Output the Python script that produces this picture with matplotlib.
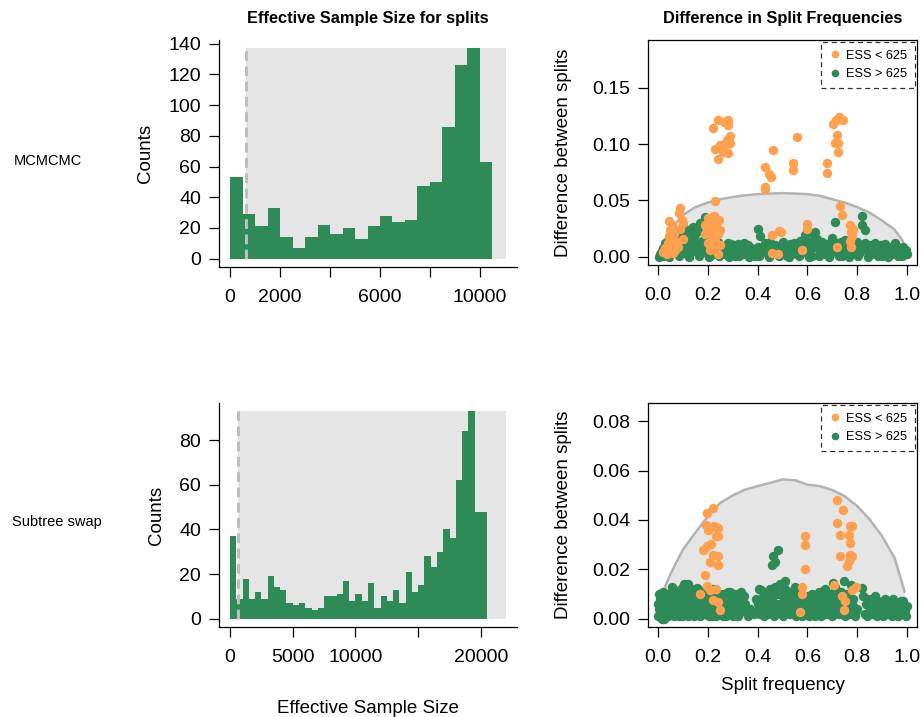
import numpy as np
import matplotlib
matplotlib.use('Agg')
import matplotlib.pyplot as plt
from matplotlib.lines import Line2D

plt.rcParams['font.family'] = ['Liberation Sans', 'DejaVu Sans']

GREEN = '#2E8B57'
ORANGE = '#FFA04F'
SHADE = '#E5E5E5'
CURVE = '#B3B3B3'

# ---- data ----
threshold = 625
bin_width = 500

counts_mcmcmc = [53, 29, 21, 33, 14, 7, 14, 22, 16, 20, 13, 21, 28, 24, 25,
                 47, 50, 86, 126, 137, 63]
ess_max_mcmcmc = 11040

counts_swap = [37, 9, 18, 9, 12, 9, 19, 14, 13, 7, 6, 7, 5, 4, 5, 10, 10, 11,
               17, 8, 11, 8, 16, 5, 10, 8, 13, 7, 21, 12, 15, 28, 23, 30, 40,
               36, 62, 84, 93, 48, 48]
ess_max_swap = 22000

# expected difference envelope (split frequency, difference)
curve_top = [(0.02, 0.012), (0.05, 0.024), (0.1, 0.037), (0.15, 0.044), (0.2, 0.048),
             (0.25, 0.051), (0.3, 0.053), (0.35, 0.0545), (0.4, 0.0555), (0.45, 0.056),
             (0.5, 0.0565), (0.55, 0.056), (0.6, 0.0555), (0.65, 0.054), (0.7, 0.051),
             (0.75, 0.048), (0.8, 0.044), (0.85, 0.039), (0.9, 0.032), (0.95, 0.024),
             (0.98, 0.015), (0.99, 0.010)]
curve_bot = [(0.02, 0.011), (0.05, 0.018), (0.1, 0.028), (0.15, 0.0348), (0.2, 0.0415),
             (0.25, 0.0469), (0.3, 0.0499), (0.35, 0.0523), (0.4, 0.0537), (0.45, 0.055),
             (0.5, 0.0564), (0.55, 0.0561), (0.6, 0.0543), (0.65, 0.0537), (0.7, 0.0521),
             (0.75, 0.0496), (0.8, 0.0456), (0.85, 0.0402), (0.9, 0.0334), (0.95, 0.0246),
             (0.98, 0.0145), (0.99, 0.011)]

green_top = [(0.01, 0.002), (0.015, 0.005), (0.02, 0.001), (0.02, 0.008), (0.03, 0.003),
             (0.03, 0.012), (0.04, 0.006), (0.05, 0.002), (0.06, 0.01), (0.07, 0.004),
             (0.075, 0.015), (0.08, 0.007), (0.09, 0.02), (0.1, 0.003), (0.1, 0.012),
             (0.11, 0.025), (0.11, 0.008), (0.12, 0.018), (0.12, 0.002), (0.13, 0.022),
             (0.13, 0.01), (0.14, 0.015), (0.14, 0.026), (0.15, 0.005), (0.15, 0.02),
             (0.16, 0.012), (0.17, 0.03), (0.17, 0.002), (0.18, 0.008), (0.19, 0.035),
             (0.19, 0.016), (0.2, 0.004), (0.21, 0.011), (0.22, 0.002), (0.23, 0.006),
             (0.24, 0.013), (0.25, 0.003), (0.26, 0.009), (0.27, 0.002), (0.28, 0.012),
             (0.29, 0.005), (0.3, 0.008), (0.31, 0.001), (0.32, 0.011), (0.33, 0.004),
             (0.34, 0.007), (0.35, 0.002), (0.36, 0.01), (0.37, 0.003), (0.38, 0.006),
             (0.39, 0.001), (0.4, 0.009), (0.4, 0.025), (0.41, 0.018), (0.42, 0.004),
             (0.43, 0.012), (0.44, 0.002), (0.45, 0.013), (0.46, 0.006), (0.47, 0.01),
             (0.48, 0.002), (0.49, 0.007), (0.5, 0.003), (0.5, 0.013), (0.51, 0.008),
             (0.52, 0.001), (0.53, 0.011), (0.54, 0.005), (0.55, 0.009), (0.56, 0.002),
             (0.57, 0.014), (0.58, 0.006), (0.59, 0.019), (0.6, 0.023), (0.6, 0.004),
             (0.61, 0.012), (0.62, 0.001), (0.63, 0.022), (0.63, 0.009), (0.64, 0.016),
             (0.65, 0.005), (0.66, 0.013), (0.67, 0.002), (0.68, 0.011), (0.69, 0.006),
             (0.7, 0.017), (0.71, 0.031), (0.72, 0.003), (0.72, 0.012), (0.73, 0.008),
             (0.74, 0.001), (0.75, 0.015), (0.76, 0.005), (0.77, 0.01), (0.78, 0.002),
             (0.79, 0.008), (0.8, 0.013), (0.81, 0.004), (0.82, 0.036), (0.82, 0.028),
             (0.83, 0.024), (0.83, 0.012), (0.84, 0.006), (0.85, 0.01), (0.86, 0.002),
             (0.87, 0.012), (0.88, 0.005), (0.89, 0.008), (0.9, 0.001), (0.91, 0.011),
             (0.92, 0.004), (0.93, 0.006), (0.94, 0.002), (0.95, 0.012), (0.96, 0.005),
             (0.97, 0.008), (0.98, 0.001), (0.99, 0.004), (1.0, 0.002), (0.995, 0.006),
             (0.005, 0.0), (0.045, 0.0), (0.085, 0.001), (0.125, 0.0), (0.165, 0.001),
             (0.205, 0.0), (0.245, 0.001), (0.285, 0.0), (0.325, 0.001), (0.365, 0.0),
             (0.405, 0.001), (0.445, 0.0), (0.485, 0.001), (0.525, 0.0), (0.565, 0.001),
             (0.605, 0.0), (0.645, 0.001), (0.685, 0.0), (0.725, 0.001), (0.765, 0.0),
             (0.805, 0.001), (0.845, 0.0), (0.885, 0.001), (0.925, 0.0), (0.965, 0.001),
             (0.025, 0.006), (0.055, 0.008), (0.065, 0.005), (0.095, 0.009), (0.105, 0.016),
             (0.115, 0.013), (0.125, 0.021), (0.135, 0.006), (0.145, 0.018), (0.155, 0.011),
             (0.16, 0.023), (0.175, 0.014), (0.185, 0.005), (0.195, 0.009), (0.215, 0.007),
             (0.255, 0.006), (0.275, 0.009), (0.295, 0.011), (0.315, 0.006), (0.345, 0.012),
             (0.375, 0.008), (0.415, 0.007), (0.435, 0.008), (0.455, 0.004), (0.475, 0.006),
             (0.505, 0.011), (0.535, 0.002), (0.545, 0.012), (0.575, 0.003), (0.585, 0.01),
             (0.595, 0.014), (0.615, 0.007), (0.625, 0.018), (0.655, 0.01), (0.675, 0.007),
             (0.695, 0.012), (0.705, 0.006), (0.735, 0.013), (0.755, 0.009), (0.785, 0.011),
             (0.795, 0.004), (0.815, 0.009), (0.855, 0.007), (0.875, 0.003), (0.895, 0.01),
             (0.915, 0.006), (0.935, 0.009), (0.955, 0.003), (0.975, 0.006), (0.985, 0.009)]

orange_top = [(0.02, 0.004), (0.03, 0.008), (0.035, 0.002), (0.04, 0.012), (0.045, 0.018),
              (0.046, 0.032), (0.05, 0.024), (0.05, 0.006), (0.055, 0.015), (0.055, 0.028),
              (0.06, 0.003), (0.06, 0.01), (0.065, 0.02), (0.07, 0.006), (0.075, 0.013),
              (0.08, 0.009), (0.085, 0.039), (0.088, 0.043), (0.09, 0.025), (0.095, 0.033),
              (0.1, 0.03), (0.1, 0.016), (0.19, 0.028), (0.19, 0.02), (0.2, 0.012),
              (0.2, 0.034), (0.205, 0.025), (0.21, 0.006), (0.21, 0.031), (0.215, 0.018),
              (0.22, 0.022), (0.22, 0.009), (0.225, 0.036), (0.23, 0.049), (0.23, 0.014),
              (0.235, 0.028), (0.24, 0.002), (0.24, 0.02), (0.245, 0.033), (0.25, 0.01),
              (0.25, 0.024), (0.219, 0.114), (0.241, 0.121), (0.264, 0.12), (0.28, 0.121),
              (0.28, 0.117), (0.288, 0.107), (0.277, 0.104), (0.228, 0.096), (0.248, 0.099),
              (0.268, 0.1), (0.288, 0.101), (0.262, 0.093), (0.282, 0.092), (0.242, 0.087),
              (0.428, 0.06), (0.43, 0.062), (0.431, 0.08), (0.447, 0.0735), (0.452, 0.071),
              (0.46, 0.0947), (0.459, 0.019), (0.459, 0.003), (0.48, 0.002), (0.485, 0.023),
              (0.495, 0.022), (0.541, 0.083), (0.541, 0.077), (0.56, 0.106), (0.58, 0.006),
              (0.6, 0.029), (0.6, 0.025), (0.678, 0.083), (0.678, 0.074), (0.702, 0.118),
              (0.714, 0.121), (0.728, 0.124), (0.741, 0.121), (0.718, 0.108), (0.722, 0.101),
              (0.711, 0.101), (0.722, 0.093), (0.72, 0.009), (0.729, 0.045), (0.738, 0.037),
              (0.77, 0.028), (0.775, 0.022), (0.78, 0.018), (0.77, 0.014), (0.775, 0.009),
              (0.785, 0.025)]

green_bot = [(0.0, 0.001), (0.005, 0.004), (0.01, 0.008), (0.01, 0.002), (0.015, 0.006),
             (0.02, 0.011), (0.02, 0.003), (0.025, 0.0), (0.03, 0.007), (0.035, 0.004),
             (0.04, 0.01), (0.04, 0.001), (0.045, 0.006), (0.05, 0.003), (0.055, 0.009),
             (0.06, 0.012), (0.06, 0.005), (0.065, 0.001), (0.07, 0.008), (0.075, 0.003),
             (0.08, 0.011), (0.08, 0.006), (0.085, 0.001), (0.09, 0.009), (0.095, 0.004),
             (0.1, 0.013), (0.1, 0.007), (0.105, 0.002), (0.11, 0.01), (0.115, 0.005),
             (0.12, 0.014), (0.12, 0.001), (0.125, 0.008), (0.13, 0.004), (0.135, 0.011),
             (0.14, 0.006), (0.145, 0.001), (0.15, 0.009), (0.155, 0.003), (0.16, 0.012),
             (0.165, 0.006), (0.17, 0.001), (0.175, 0.01), (0.18, 0.004), (0.185, 0.008),
             (0.19, 0.002), (0.195, 0.011), (0.2, 0.006), (0.205, 0.001), (0.21, 0.009),
             (0.215, 0.004), (0.22, 0.012), (0.225, 0.002), (0.23, 0.007), (0.235, 0.001),
             (0.24, 0.01), (0.245, 0.005), (0.25, 0.002), (0.255, 0.008), (0.26, 0.003),
             (0.265, 0.01), (0.27, 0.006), (0.275, 0.001), (0.28, 0.009), (0.285, 0.004),
             (0.29, 0.011), (0.295, 0.002), (0.3, 0.007), (0.305, 0.003), (0.31, 0.01),
             (0.315, 0.005), (0.32, 0.001), (0.33, 0.008), (0.34, 0.003), (0.35, 0.006),
             (0.36, 0.001), (0.37, 0.004), (0.385, 0.002), (0.4, 0.006), (0.405, 0.012),
             (0.41, 0.002), (0.415, 0.008), (0.42, 0.004), (0.425, 0.001), (0.43, 0.01),
             (0.435, 0.005), (0.44, 0.002), (0.445, 0.008), (0.45, 0.012), (0.455, 0.004),
             (0.46, 0.009), (0.465, 0.001), (0.47, 0.013), (0.475, 0.006), (0.48, 0.003),
             (0.485, 0.01), (0.49, 0.014), (0.495, 0.005), (0.5, 0.001), (0.505, 0.008),
             (0.51, 0.012), (0.515, 0.003), (0.52, 0.007), (0.525, 0.011), (0.53, 0.002),
             (0.535, 0.006), (0.54, 0.01), (0.545, 0.004), (0.55, 0.013), (0.555, 0.001),
             (0.56, 0.007), (0.565, 0.003), (0.57, 0.009), (0.575, 0.005), (0.58, 0.001),
             (0.59, 0.004), (0.6, 0.009), (0.605, 0.001), (0.61, 0.006), (0.615, 0.003),
             (0.62, 0.01), (0.625, 0.005), (0.63, 0.001), (0.635, 0.008), (0.64, 0.003),
             (0.645, 0.011), (0.65, 0.006), (0.655, 0.001), (0.66, 0.009), (0.665, 0.004),
             (0.67, 0.012), (0.675, 0.002), (0.68, 0.007), (0.685, 0.003), (0.69, 0.01),
             (0.695, 0.005), (0.7, 0.001), (0.705, 0.008), (0.71, 0.013), (0.715, 0.004),
             (0.72, 0.009), (0.725, 0.002), (0.73, 0.006), (0.735, 0.011), (0.74, 0.003),
             (0.745, 0.008), (0.75, 0.001), (0.755, 0.005), (0.76, 0.01), (0.765, 0.002),
             (0.77, 0.007), (0.775, 0.003), (0.785, 0.005), (0.79, 0.001), (0.8, 0.004),
             (0.825, 0.009), (0.83, 0.002), (0.835, 0.006), (0.84, 0.001), (0.85, 0.004),
             (0.86, 0.008), (0.865, 0.002), (0.87, 0.005), (0.88, 0.001), (0.885, 0.007),
             (0.89, 0.003), (0.9, 0.006), (0.905, 0.001), (0.91, 0.004), (0.92, 0.007),
             (0.925, 0.002), (0.93, 0.005), (0.94, 0.001), (0.945, 0.008), (0.95, 0.003),
             (0.96, 0.006), (0.965, 0.001), (0.97, 0.004), (0.98, 0.002), (0.985, 0.007),
             (0.99, 0.003), (0.995, 0.001), (1.0, 0.005), (0.106, 0.0142), (0.482, 0.028),
             (0.462, 0.0253), (0.468, 0.0229), (0.458, 0.0219), (0.703, 0.0145),
             (0.746, 0.0152), (0.509, 0.0152), (0.055, 0.013), (0.155, 0.0125),
             (0.335, 0.011), (0.415, 0.0115), (0.775, 0.0135), (0.82, 0.0125),
             (0.0, 0.006), (0.005, 0.01), (0.012, 0.005), (0.018, 0.0), (0.028, 0.01),
             (0.033, 0.001), (0.038, 0.007), (0.048, 0.009), (0.052, 0.006), (0.058, 0.002),
             (0.068, 0.011), (0.072, 0.005), (0.078, 0.009), (0.088, 0.004), (0.092, 0.012),
             (0.098, 0.001), (0.108, 0.009), (0.112, 0.003), (0.118, 0.011), (0.128, 0.005),
             (0.132, 0.012), (0.138, 0.002), (0.148, 0.007), (0.152, 0.004), (0.162, 0.009),
             (0.168, 0.003), (0.178, 0.007), (0.182, 0.011), (0.192, 0.006), (0.198, 0.003),
             (0.208, 0.011), (0.212, 0.006), (0.218, 0.001), (0.228, 0.01), (0.232, 0.004),
             (0.238, 0.007), (0.248, 0.01), (0.258, 0.005), (0.262, 0.001), (0.268, 0.008),
             (0.278, 0.004), (0.282, 0.011), (0.292, 0.006), (0.302, 0.001), (0.312, 0.007),
             (0.325, 0.004), (0.345, 0.009), (0.355, 0.003), (0.395, 0.008), (0.402, 0.003),
             (0.422, 0.007), (0.438, 0.011), (0.452, 0.007), (0.472, 0.003), (0.488, 0.006),
             (0.502, 0.011), (0.512, 0.006), (0.532, 0.009), (0.548, 0.007), (0.562, 0.011),
             (0.585, 0.007), (0.598, 0.002), (0.618, 0.008), (0.638, 0.005), (0.652, 0.009),
             (0.672, 0.006), (0.688, 0.008), (0.712, 0.007), (0.728, 0.01), (0.752, 0.007),
             (0.762, 0.006), (0.782, 0.008), (0.795, 0.003), (0.842, 0.008), (0.855, 0.002),
             (0.872, 0.009), (0.895, 0.004), (0.912, 0.008), (0.935, 0.003), (0.952, 0.006),
             (0.975, 0.007), (0.992, 0.005)]

orange_bot = [(0.195, 0.0429), (0.219, 0.0448), (0.191, 0.0381), (0.201, 0.0361),
              (0.224, 0.0377), (0.242, 0.0368), (0.233, 0.0334), (0.242, 0.0334),
              (0.179, 0.028), (0.195, 0.0293), (0.211, 0.0304), (0.219, 0.0257),
              (0.242, 0.0253), (0.208, 0.0228), (0.242, 0.0219), (0.189, 0.0178),
              (0.195, 0.0131), (0.208, 0.0117), (0.17, 0.0101), (0.233, 0.0121),
              (0.219, 0.0077), (0.242, 0.0068), (0.248, 0.0034), (0.59, 0.0334),
              (0.59, 0.03), (0.59, 0.0203), (0.58, 0.0127), (0.58, 0.0101), (0.57, 0.0027),
              (0.718, 0.0479), (0.718, 0.0388), (0.729, 0.034), (0.729, 0.0253),
              (0.743, 0.0441), (0.772, 0.0375), (0.778, 0.0377), (0.768, 0.0338),
              (0.772, 0.0307), (0.772, 0.0256), (0.778, 0.0253), (0.765, 0.0232),
              (0.759, 0.0213), (0.706, 0.0138), (0.737, 0.009), (0.75, 0.0071),
              (0.746, 0.0037), (0.778, 0.0117), (0.795, 0.0128)]

# ---- figure ----
W, H = 923, 717
TICK_FS = 14
LAB_FS = 13.5
fig = plt.figure(figsize=(W / 100, H / 100), dpi=100)


def box(x0, y0, x1, y1):
    # pixel box (top-left origin) -> figure fraction rect
    return [x0 / W, 1 - y1 / H, (x1 - x0) / W, (y1 - y0) / H]


def style_axis(ax):
    ax.tick_params(direction='out', length=7, width=0.9, labelsize=TICK_FS,
                   color='black')
    ax.tick_params(axis='x', pad=9)
    ax.tick_params(axis='y', pad=6)
    for s in ax.spines.values():
        s.set_linewidth(0.9)


def ess_hist(ax, counts, ess_max, xticks, xlabels, yticks):
    edges = np.arange(len(counts) + 1) * bin_width
    top = max(counts)
    ax.fill_between([threshold, ess_max], 0, top, color=SHADE, lw=0, zorder=0)
    ax.bar(edges[:-1], counts, width=bin_width, align='edge', color=GREEN,
           lw=0, zorder=2)
    ax.vlines(threshold, 0, top + 2, colors='#BEBEBE', lw=2.2,
              linestyles=(0, (3.2, 1.8)), zorder=3)
    ax.set_xlim(-0.04 * ess_max, 1.04 * ess_max)
    ax.set_ylim(-0.04 * top, 1.04 * top)
    ax.spines['top'].set_visible(False)
    ax.spines['right'].set_visible(False)
    ax.set_xticks(xticks)
    ax.set_xticklabels(xlabels)
    ax.set_yticks(yticks)
    ax.set_yticklabels([str(v) for v in yticks])
    ax.set_ylabel('Counts', fontsize=LAB_FS, labelpad=10)
    style_axis(ax)


def diff_scatter(ax, curve, green, orange, ymax, yticks, ylabels):
    cx, cy = zip(*curve)
    ax.fill_between(cx, 0, cy, color=SHADE, lw=0, zorder=0)
    ax.plot(cx, cy, color=CURVE, lw=1.8, zorder=1)
    gx, gy = zip(*green)
    ox, oy = zip(*orange)
    ax.scatter(gx, gy, s=46, color=GREEN, lw=0, zorder=2)
    ax.scatter(ox, oy, s=46, color=ORANGE, lw=0, zorder=3)
    ax.set_xlim(-0.04, 1.04)
    ax.set_ylim(-0.04 * ymax, 1.04 * ymax)
    ax.set_xticks([0, 0.2, 0.4, 0.6, 0.8, 1.0])
    ax.set_xticklabels(['0.0', '0.2', '0.4', '0.6', '0.8', '1.0'])
    ax.set_yticks(yticks)
    ax.set_yticklabels(ylabels)
    ax.set_ylabel('Difference between splits', fontsize=LAB_FS, labelpad=14)
    handles = [Line2D([], [], ls='', marker='o', ms=5.5, mec='none', mfc=ORANGE),
               Line2D([], [], ls='', marker='o', ms=5.5, mec='none', mfc=GREEN)]
    leg = ax.legend(handles, ['ESS < 625', 'ESS > 625'], loc='upper right',
                    fontsize=9.2, frameon=True, fancybox=False, borderaxespad=0.15,
                    handletextpad=0.4, handlelength=1.0, borderpad=0.6,
                    labelspacing=0.5)
    fr = leg.get_frame()
    fr.set_linestyle((0, (4, 3)))
    fr.set_edgecolor('black')
    fr.set_linewidth(0.9)
    style_axis(ax)


ax1 = fig.add_axes(box(219, 40, 517, 267))
ess_hist(ax1, counts_mcmcmc, ess_max_mcmcmc,
         [0, 2000, 4000, 6000, 8000, 10000], ['0', '2000', '', '6000', '', '10000'],
         [0, 20, 40, 60, 80, 100, 120, 140])
ax1.set_title('Effective Sample Size for splits', fontsize=11.8,
              fontweight='bold', pad=12)

ax3 = fig.add_axes(box(219, 403, 517, 627))
ess_hist(ax3, counts_swap, ess_max_swap,
         [0, 5000, 10000, 15000, 20000], ['0', '5000', '10000', '', '20000'],
         [0, 20, 40, 60, 80])
ax3.set_xlabel('Effective Sample Size', fontsize=LAB_FS, labelpad=24)

ax2 = fig.add_axes(box(648, 40, 917, 265))
diff_scatter(ax2, curve_top, green_top, orange_top, 0.185,
             [0, 0.05, 0.10, 0.15], ['0.00', '0.05', '0.10', '0.15'])
ax2.set_title('Difference in Split Frequencies', fontsize=11.8,
              fontweight='bold', pad=12)

ax4 = fig.add_axes(box(648, 403, 917, 627))
diff_scatter(ax4, curve_bot, green_bot, orange_bot, 0.084,
             [0, 0.02, 0.04, 0.06, 0.08], ['0.00', '0.02', '0.04', '0.06', '0.08'])
ax4.set_xlabel('Split frequency', fontsize=LAB_FS, labelpad=8)

fig.text(48 / W, 1 - 161 / H, 'MCMCMC', fontsize=10.5, ha='center', va='center')
fig.text(57 / W, 1 - 522 / H, 'Subtree swap', fontsize=10.5, ha='center', va='center')

fig.savefig('out.png', dpi=100)
